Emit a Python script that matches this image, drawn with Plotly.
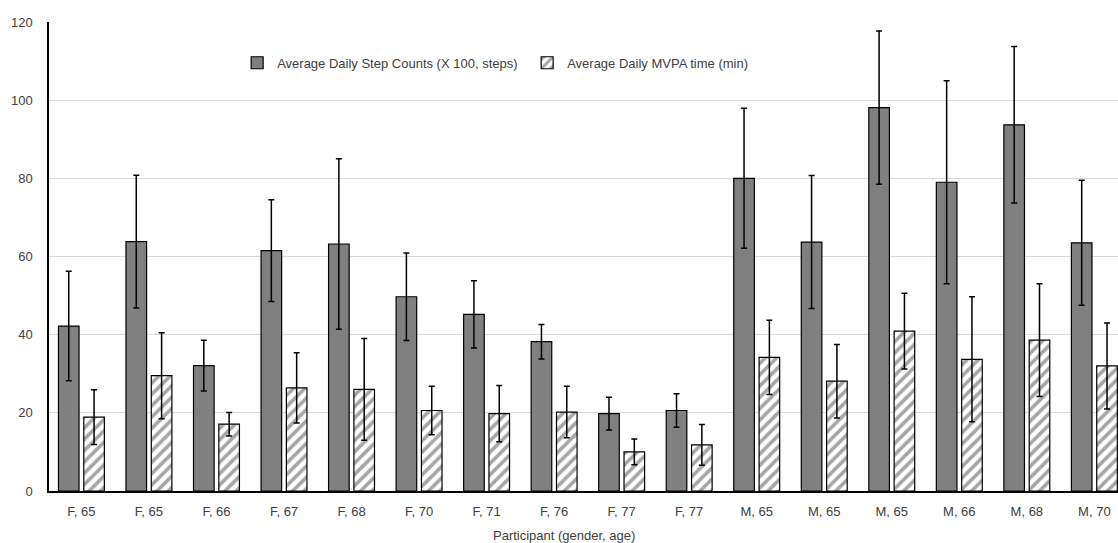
import plotly.graph_objects as go

participants = ["F, 65", "F, 65", "F, 66", "F, 67", "F, 68", "F, 70", "F, 71", "F, 76",
                "F, 77", "F, 77", "M, 65", "M, 65", "M, 65", "M, 66", "M, 68", "M, 70"]
step_counts = [42.2, 63.8, 32.1, 61.5, 63.2, 49.7, 45.2, 38.2, 19.8, 20.6, 80.0, 63.7, 98.1, 79.0, 93.7, 63.5]
step_sd = [14.0, 17.0, 6.5, 13.0, 21.8, 11.2, 8.6, 4.4, 4.2, 4.3, 17.9, 17.0, 19.6, 26.0, 20.0, 16.0]
mvpa_time = [18.9, 29.5, 17.1, 26.4, 26.0, 20.6, 19.8, 20.2, 10.0, 11.8, 34.2, 28.1, 40.9, 33.7, 38.6, 32.0]
mvpa_sd = [7.0, 11.0, 3.0, 9.0, 13.0, 6.2, 7.2, 6.6, 3.3, 5.2, 9.5, 9.4, 9.7, 16.0, 14.4, 11.0]
y_ticks = [0, 20, 40, 60, 80, 100, 120]

idx = list(range(len(participants)))
FONT = "Liberation Sans"
TXT = "#404040"

fig = go.Figure()
fig.add_trace(go.Bar(
    x=idx, y=step_counts, name="Average Daily Step Counts (X 100, steps)",
    width=0.305, offset=-0.34,
    marker=dict(color="#808080", line=dict(color="#000000", width=1.2)),
    error_y=dict(type="data", array=step_sd, visible=True, color="#000000", thickness=1.5, width=3),
))
fig.add_trace(go.Bar(
    x=idx, y=mvpa_time, name="Average Daily MVPA time (min)",
    width=0.305, offset=0.035,
    marker=dict(color="#ffffff", line=dict(color="#000000", width=1.2),
                pattern=dict(shape="/", fgcolor="#4d4d4d", bgcolor="#ffffff", size=8, solidity=0.45)),
    error_y=dict(type="data", array=mvpa_sd, visible=True, color="#000000", thickness=1.5, width=3),
))

fig.update_layout(
    width=1118, height=543,
    margin=dict(l=49, r=0, t=22, b=52, autoexpand=False),
    paper_bgcolor="#ffffff", plot_bgcolor="#ffffff",
    barmode="overlay",
    font=dict(family=FONT, size=13, color=TXT),
    legend=dict(orientation="h", x=0.176, y=0.913, xanchor="left", yanchor="middle",
                font=dict(family=FONT, size=13, color=TXT), bgcolor="rgba(0,0,0,0)",
                entrywidth=245, entrywidthmode="pixels", itemwidth=30),
    xaxis=dict(
        tickmode="array", tickvals=idx, ticktext=participants,
        range=[-0.48, 15.35], showgrid=False, zeroline=False, automargin=False,
        showline=True, linecolor="#000000", linewidth=1.5,
        ticks="", ticklabelstandoff=8,
        tickfont=dict(family=FONT, size=13, color=TXT),
    ),
    yaxis=dict(
        range=[0, 120], tickmode="array", tickvals=y_ticks, automargin=False,
        showgrid=True, gridcolor="#d9d9d9", gridwidth=1.2, zeroline=False,
        showline=True, linecolor="#000000", linewidth=1.5,
        ticks="", ticklabelstandoff=12,
        tickfont=dict(family=FONT, size=13, color=TXT),
    ),
    annotations=[dict(
        text="Participant (gender, age)", xref="paper", yref="paper",
        x=0.482, y=-0.095, xanchor="center", yanchor="middle", showarrow=False,
        font=dict(family=FONT, size=13, color=TXT),
    )],
)

fig.write_html(
    "out.html",
    config={"displayModeBar": False},
    post_script="document.body.style.margin='0';document.body.style.overflow='hidden';",
)
